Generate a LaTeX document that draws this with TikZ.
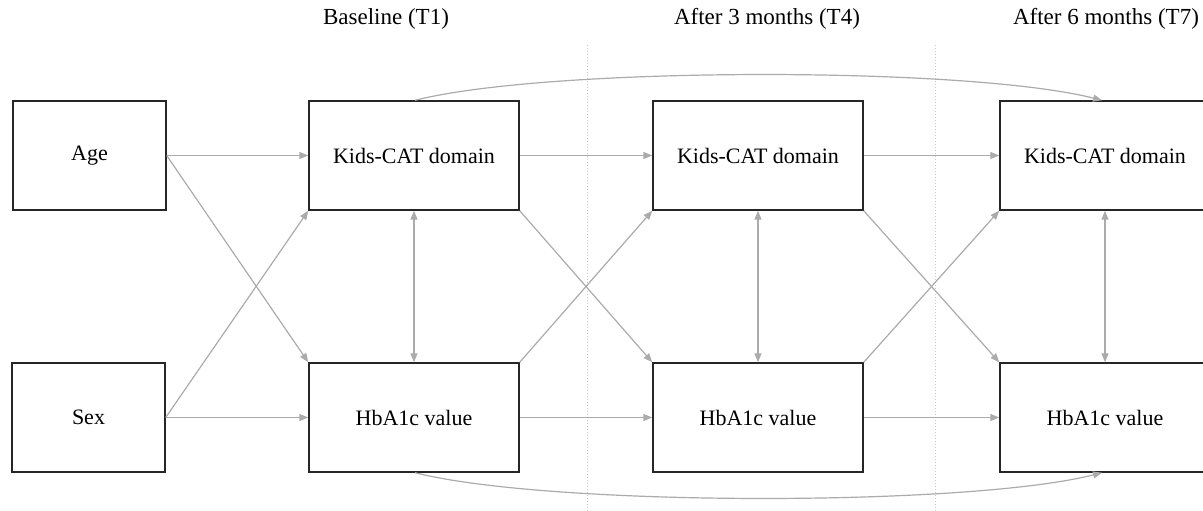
\documentclass[tikz,border=0pt]{standalone}
\usepackage{fontspec}
\setmainfont{Liberation Serif}
\usetikzlibrary{arrows.meta,calc}
\begin{document}
\begin{tikzpicture}[x=1pt,y=-1pt,
 box/.style={draw=black!85,line width=1.4pt,minimum width=210pt,minimum height=109pt,inner sep=0pt,font=\fontsize{22}{26}\selectfont},
 sbox/.style={box,minimum width=153pt},
 arr/.style={draw=black!33,line width=1.2pt,-{Triangle[length=9pt,width=7pt]}},
 darr/.style={arr,{Triangle[length=9pt,width=7pt]}-{Triangle[length=9pt,width=7pt]}},
 title/.style={font=\fontsize{23}{27}\selectfont},
 sep/.style={draw=black!22,line width=1pt,dotted}]
\useasboundingbox (0,0) rectangle (1203,511);
% separators
\coordinate (s1a) at (587,45);
\coordinate (s1b) at (587,511);
\coordinate (s2a) at (935,45);
\coordinate (s2b) at (935,511);
\draw[sep] (s1a) -- (s1b);
\draw[sep] (s2a) -- (s2b);
% titles
\node[title] (t1) at (386,19) {Baseline (T1)};
\node[title] (t4) at (767,19) {After 3 months (T4)};
\node[title] (t7) at (1106,19) {After 6 months (T7)};
% boxes
\node[sbox] (age) at (89.5,155.5) {Age};
\node[sbox] (sex) at (88.5,417.5) {Sex};
\node[box] (k1) at (414,155.5) {Kids-CAT domain};
\node[box] (h1) at (414,417.5) {HbA1c value};
\node[box] (k4) at (758,155.5) {Kids-CAT domain};
\node[box] (h4) at (758,417.5) {HbA1c value};
\node[box] (k7) at (1105,155.5) {Kids-CAT domain};
\node[box] (h7) at (1105,417.5) {HbA1c value};
% covariates
\draw[arr] (age.east) -- (k1.west);
\draw[arr] (age.east) -- (h1.north west);
\draw[arr] (sex.east) -- (k1.south west);
\draw[arr] (sex.east) -- (h1.west);
% within time
\draw[darr] (k1.south) -- (h1.north);
\draw[darr] (k4.south) -- (h4.north);
\draw[darr] (k7.south) -- (h7.north);
% T1 -> T4
\draw[arr] (k1.east) -- (k4.west);
\draw[arr] (k1.south east) -- (h4.north west);
\draw[arr] (h1.north east) -- (k4.south west);
\draw[arr] (h1.east) -- (h4.west);
% T4 -> T7
\draw[arr] (k4.east) -- (k7.west);
\draw[arr] (k4.south east) -- (h7.north west);
\draw[arr] (h4.north east) -- (k7.south west);
\draw[arr] (h4.east) -- (h7.west);
% long curves
\draw[arr] ([xshift=1pt]k1.north) .. controls +(134,-34) and +(-134,-34) .. ([xshift=-3pt]k7.north);
\draw[arr] ([xshift=1pt]h1.south) .. controls +(134,34) and +(-134,34) .. ([xshift=-3pt]h7.south);
\end{tikzpicture}
\end{document}
